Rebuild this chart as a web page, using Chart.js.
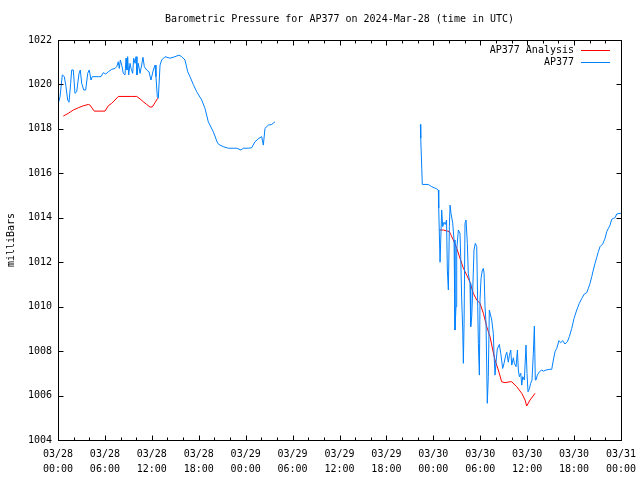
<!DOCTYPE html>
<html>
<head>
<meta charset="utf-8">
<script src="https://cdn.jsdelivr.net/npm/chart.js@4.4.1/dist/chart.umd.min.js"></script>
<style>
  body { margin: 0; background: #fff; }
  canvas { display: block; }
</style>
</head>
<body>
<canvas id="myChart" width="640" height="480"></canvas>
<script>
// Hours since 2024-03-28 00:00 UTC, pressure in mb
const obsHours1 = [0.04, 0.26, 0.55, 0.81, 1.02, 1.24, 1.41, 1.62, 1.75, 1.96, 2.17, 2.39, 2.69, 2.85, 3.03, 3.29, 3.54, 3.80, 4.00, 4.22,
    4.39, 4.73, 5.15, 5.50, 5.79, 6.10, 6.43, 6.87, 7.29, 7.51, 7.71, 7.84, 7.97, 8.15, 8.35, 8.57, 8.70, 8.82, 8.91, 9.04,
    9.21, 9.34, 9.55, 9.68, 9.85, 9.98, 10.10, 10.27, 10.49, 10.70, 10.87, 11.04, 11.34, 11.64, 11.89, 12.19, 12.41, 12.53, 12.70, 12.83,
    13.05, 13.26, 13.68, 14.32, 14.96, 15.47, 15.82, 16.24, 16.59, 16.88, 17.30, 17.74, 18.38, 18.80, 19.22, 19.86, 20.42, 20.72, 21.14, 21.78,
    22.42, 22.85, 23.40, 23.70, 24.34, 24.77, 25.19, 25.71, 26.05, 26.26, 26.47, 26.90, 27.33, 27.75];
const obsPressure1 = [1019.15, 1019.45, 1020.43, 1020.35, 1019.90, 1019.30, 1019.20, 1020.05, 1020.65, 1020.65, 1019.60, 1019.67, 1020.50, 1020.65, 1020.05, 1019.75, 1019.75, 1020.50, 1020.65, 1020.20,
    1020.35, 1020.35, 1020.35, 1020.35, 1020.53, 1020.47, 1020.57, 1020.68, 1020.72, 1020.80, 1021.02, 1020.72, 1021.10, 1020.87, 1020.50, 1020.43, 1021.18, 1020.65, 1021.25, 1020.43,
    1020.95, 1020.72, 1020.50, 1021.18, 1020.95, 1021.25, 1020.43, 1020.95, 1020.50, 1020.87, 1021.22, 1020.80, 1020.65, 1020.57, 1020.20, 1020.65, 1020.87, 1020.35, 1019.45, 1019.38,
    1020.87, 1021.10, 1021.25, 1021.18, 1021.25, 1021.32, 1021.25, 1021.10, 1020.57, 1020.35, 1020.00, 1019.67, 1019.30, 1018.92, 1018.32, 1017.87, 1017.35, 1017.27, 1017.20, 1017.13,
    1017.13, 1017.13, 1017.05, 1017.13, 1017.13, 1017.15, 1017.42, 1017.58, 1017.65, 1017.27, 1018.02, 1018.17, 1018.20, 1018.32];

const obsHours2 = [46.34, 46.39, 46.52, 46.59, 47.36, 47.79, 48.43, 48.64, 48.69, 48.86, 49.07, 49.20, 49.37, 49.53, 49.69, 49.79, 49.92, 50.05, 50.14, 50.26,
    50.48, 50.65, 50.77, 50.90, 50.99, 51.20, 51.41, 51.50, 51.63, 51.76, 51.84, 51.93, 52.05, 52.18, 52.35, 52.47, 52.69, 52.78, 52.91, 53.04,
    53.20, 53.37, 53.55, 53.68, 53.76, 53.89, 53.97, 54.10, 54.27, 54.40, 54.49, 54.61, 54.74, 54.90, 55.03, 55.16, 55.47, 55.67, 55.76, 55.89,
    56.02, 56.18, 56.44, 56.62, 56.87, 57.04, 57.26, 57.39, 57.59, 57.72, 57.90, 58.03, 58.23, 58.36, 58.58, 58.75, 58.87, 59.00, 59.18, 59.31,
    59.43, 59.64, 59.85, 59.98, 60.11, 60.28, 60.45, 60.62, 60.79, 60.92, 61.04, 61.13, 61.30, 61.56, 61.86, 62.09, 62.41, 62.83, 63.14, 63.35,
    63.56, 63.78, 64.07, 64.29, 64.55, 64.84, 65.14, 65.39, 65.70, 65.99, 66.34, 66.67, 66.98, 67.31, 67.62, 67.82, 68.04, 68.26, 68.46, 68.68,
    68.90, 69.10, 69.32, 69.66, 69.96, 70.17, 70.38, 70.60, 70.81, 71.02, 71.24, 71.45, 71.88, 72.00];
const obsPressure2 = [1018.20, 1017.58, 1016.23, 1015.50, 1015.50, 1015.40, 1015.30, 1015.25, 1014.43, 1012.00, 1014.35, 1013.60, 1013.80, 1013.70, 1013.90, 1011.65, 1010.75, 1013.60, 1014.57, 1014.20,
    1013.75, 1013.00, 1008.95, 1010.00, 1012.55, 1013.45, 1013.30, 1012.25, 1010.30, 1008.95, 1007.45, 1009.25, 1013.75, 1013.90, 1012.85, 1011.50, 1011.05, 1009.10, 1009.55, 1010.75,
    1012.55, 1012.85, 1012.70, 1010.00, 1008.35, 1006.92, 1010.30, 1011.27, 1011.65, 1011.72, 1011.50, 1010.00, 1009.25, 1005.65, 1006.85, 1009.85, 1009.40, 1008.80, 1007.90, 1006.92,
    1007.50, 1008.10, 1008.30, 1007.90, 1007.22, 1007.45, 1007.82, 1007.95, 1007.50, 1007.80, 1008.05, 1007.37, 1007.70, 1007.45, 1007.30, 1008.05, 1007.15, 1006.85, 1007.00, 1006.47,
    1006.85, 1006.70, 1008.27, 1007.00, 1006.17, 1006.30, 1006.55, 1006.70, 1007.90, 1009.13, 1006.70, 1006.70, 1006.92, 1007.07, 1007.15, 1007.10, 1007.15, 1007.18, 1007.18, 1007.60,
    1007.97, 1008.12, 1008.47, 1008.38, 1008.47, 1008.32, 1008.42, 1008.65, 1009.02, 1009.47, 1009.85, 1010.15, 1010.37, 1010.57, 1010.63, 1010.82, 1011.05, 1011.35, 1011.65, 1011.95,
    1012.22, 1012.47, 1012.70, 1012.82, 1013.07, 1013.37, 1013.52, 1013.67, 1013.93, 1013.97, 1014.00, 1014.17, 1014.20, 1014.20];

const anaHours1 = [0.68, 1.32, 1.96, 2.60, 3.24, 3.88, 4.09, 4.64, 5.37, 6.01, 6.43, 6.87, 7.29, 7.71, 8.57, 9.43, 10.07, 10.49, 10.91, 11.34, 11.77, 12.06, 12.41, 12.75];
const anaPressure1 = [1018.58, 1018.70, 1018.85, 1018.95, 1019.04, 1019.10, 1019.07, 1018.80, 1018.80, 1018.80, 1019.04, 1019.15, 1019.30, 1019.46, 1019.46, 1019.46, 1019.46, 1019.35, 1019.22, 1019.10, 1018.98, 1018.99, 1019.18, 1019.38];

const anaHours2 = [48.77, 49.28, 49.79, 50.05, 50.22, 50.56, 50.99, 51.41, 51.84, 52.27, 52.69, 53.11, 53.55, 53.97, 54.40, 54.83, 55.25, 55.60, 55.89, 56.31,
    56.74, 57.16, 57.81, 58.03, 58.66, 59.31, 59.73, 59.94, 60.37, 61.01];
const anaPressure2 = [1013.45, 1013.45, 1013.40, 1013.38, 1013.25, 1013.00, 1012.63, 1012.18, 1011.73, 1011.42, 1011.10, 1010.60, 1010.30, 1010.15, 1009.70, 1009.10, 1008.65, 1008.05, 1007.60, 1007.15,
    1006.62, 1006.58, 1006.62, 1006.62, 1006.40, 1006.10, 1005.80, 1005.53, 1005.80, 1006.10];

// Tick labels every 6 hours
const tickDates = ['03/28', '03/28', '03/28', '03/28', '03/29', '03/29', '03/29', '03/29', '03/30', '03/30', '03/30', '03/30', '03/31'];
const tickTimes = ['00:00', '06:00', '12:00', '18:00', '00:00', '06:00', '12:00', '18:00', '00:00', '06:00', '12:00', '18:00', '00:00'];

const titulo = 'Barometric Pressure for AP377 on 2024-Mar-28 (time in UTC)';
const corAnalise = '#ff0000';
const corObs = '#0080ff';
const fonte = '10px "DejaVu Sans Mono"';

/**
 * Junta os trechos num array de pontos, com um null entre eles para a falha.
 */
function montaPontos(trechos) {
    let pontos = [];
    trechos.forEach((trecho, i) => {
        if (i > 0) {
            pontos.push({ x: trecho[0][0] - 0.01, y: null });
        }
        trecho[0].forEach((h, j) => pontos.push({ x: h, y: trecho[1][j] }));
    });
    return pontos;
}

// Moldura, ticks internos, titulo e legenda no estilo gnuplot
const molduraPlugin = {
    id: 'moldura',
    afterDraw(chart) {
        const ctx = chart.ctx;
        const area = chart.chartArea;
        const sx = chart.scales.x;
        const sy = chart.scales.y;
        const l = Math.round(area.left) + 0.5;
        const r = Math.round(area.right) + 0.5;
        const t = Math.round(area.top) + 0.5;
        const b = Math.round(area.bottom) + 0.5;

        ctx.save();
        ctx.strokeStyle = '#000';
        ctx.lineWidth = 1;
        ctx.beginPath();
        for (let h = 0; h <= 72; h += 2) {
            const x = Math.round(sx.getPixelForValue(h)) + 0.5;
            const len = (h % 6 == 0) ? 5 : 3;
            ctx.moveTo(x, b); ctx.lineTo(x, b - len);
            ctx.moveTo(x, t); ctx.lineTo(x, t + len);
        }
        for (let v = 1004; v <= 1022; v += 2) {
            const y = Math.round(sy.getPixelForValue(v)) + 0.5;
            ctx.moveTo(l, y); ctx.lineTo(l + 5, y);
            ctx.moveTo(r, y); ctx.lineTo(r - 5, y);
        }
        ctx.stroke();
        ctx.strokeRect(l, t, r - l, b - t);

        ctx.fillStyle = '#000';
        ctx.font = fonte;
        ctx.textBaseline = 'middle';
        ctx.textAlign = 'center';
        ctx.fillText(titulo, (area.left + area.right) / 2, 19);

        ctx.save();
        ctx.translate(11, (area.top + area.bottom) / 2);
        ctx.rotate(-Math.PI / 2);
        ctx.fillText('milliBars', 0, 0);
        ctx.restore();

        // legenda
        const itens = [['AP377 Analysis', corAnalise], ['AP377', corObs]];
        itens.forEach((item, i) => {
            const y = 50 + i * 12;
            ctx.textAlign = 'right';
            ctx.fillStyle = '#000';
            ctx.fillText(item[0], 574, y);
            ctx.strokeStyle = item[1];
            ctx.beginPath();
            ctx.moveTo(581, Math.round(y) + 0.5);
            ctx.lineTo(610, Math.round(y) + 0.5);
            ctx.stroke();
        });
        ctx.restore();
    }
};

function criaGrafico() {
    const config = {
        type: 'line',
        data: {
            datasets: [
                {
                    label: 'AP377 Analysis',
                    data: montaPontos([[anaHours1, anaPressure1], [anaHours2, anaPressure2]]),
                    borderColor: corAnalise,
                    borderWidth: 1,
                    pointRadius: 0,
                    order: 1
                },
                {
                    label: 'AP377',
                    data: montaPontos([[obsHours1, obsPressure1], [obsHours2, obsPressure2]]),
                    borderColor: corObs,
                    borderWidth: 1,
                    pointRadius: 0,
                    order: 0
                }
            ]
        },
        options: {
            responsive: false,
            animation: false,
            layout: { padding: { left: 0, right: 19, top: 40, bottom: 0 } },
            plugins: {
                legend: { display: false },
                title: { display: false },
                tooltip: { enabled: false }
            },
            scales: {
                x: {
                    type: 'linear',
                    min: 0,
                    max: 72,
                    grid: { display: false, drawTicks: false },
                    border: { display: false },
                    ticks: {
                        stepSize: 6,
                        maxRotation: 0,
                        autoSkip: false,
                        padding: 7,
                        color: '#000',
                        font: { family: 'DejaVu Sans Mono', size: 10, lineHeight: 1.5 },
                        callback: (v) => {
                            const i = Math.round(v / 6);
                            return [tickDates[i], tickTimes[i]];
                        }
                    },
                    afterFit: (s) => {
                        s.height = 40;
                        s.paddingLeft = 0;
                        s.paddingRight = 0;
                    }
                },
                y: {
                    min: 1004,
                    max: 1022,
                    grid: { display: false, drawTicks: false },
                    border: { display: false },
                    ticks: {
                        stepSize: 2,
                        padding: 6,
                        color: '#000',
                        font: { family: 'DejaVu Sans Mono', size: 10 },
                        callback: (v) => String(v)
                    },
                    afterFit: (s) => { s.width = 58; }
                }
            }
        },
        plugins: [molduraPlugin]
    };

    return new Chart(document.getElementById('myChart'), config);
}

let objGrafico = criaGrafico();
</script>
</body>
</html>
